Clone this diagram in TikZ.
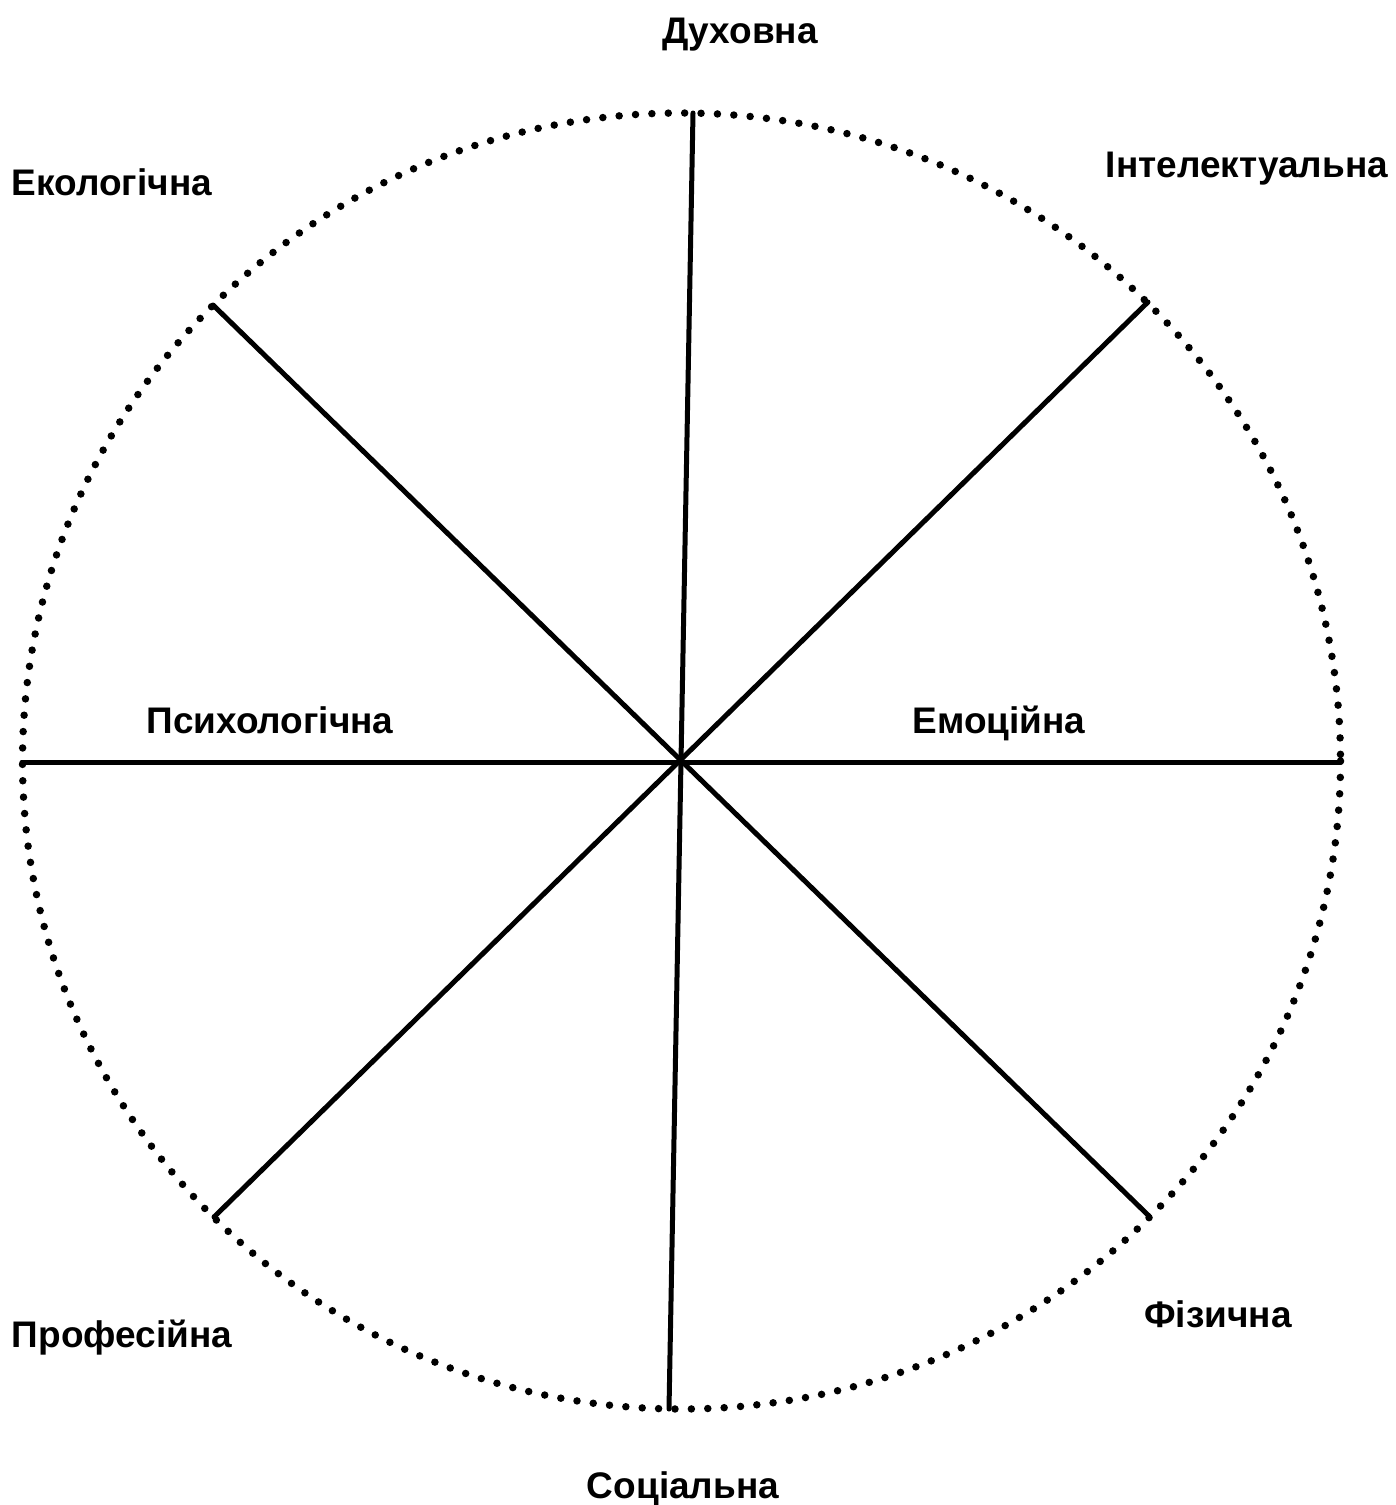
\documentclass[tikz,border=0pt]{standalone}
\usepackage{fontspec}
\setmainfont{Liberation Sans}
\begin{document}
\begin{tikzpicture}[x=1pt,y=-1pt,
  spoke/.style={line width=5pt,line cap=round},
  rim/.style={line width=7.5pt,line cap=round,dash pattern=on 0pt off 16.4pt},
  lbl/.style={anchor=base,inner sep=0pt,font=\fontsize{37}{40}\selectfont\bfseries}]
\useasboundingbox (0,0) rectangle (1396,1505);
\coordinate (c) at (681.5,761);
\draw[rim] (c) ellipse [x radius=659, y radius=648];
\coordinate (top) at (693,113);
\coordinate (bot) at (669,1409);
\coordinate (lft) at (22,762);
\coordinate (rgt) at (1341,762);
\coordinate (ul) at (213,305);
\coordinate (lr) at (1149,1216);
\coordinate (ur) at (1148,302);
\coordinate (ll) at (214,1217);
\draw[spoke] (top) -- (bot);
\draw[spoke] (lft) -- (rgt);
\draw[spoke] (ul) -- (lr);
\draw[spoke] (ur) -- (ll);
\node[lbl] (d) at (740,43) {Духовна};
\node[lbl] (i) at (1247,177) {Інтелектуальна};
\node[lbl] (e) at (112,195) {Екологічна};
\node[lbl] (p) at (270,733) {Психологічна};
\node[lbl] (em) at (999,733) {Емоційна};
\node[lbl] (pr) at (122,1347) {Професійна};
\node[lbl] (f) at (1218,1327) {Фізична};
\node[lbl] (s) at (683,1498) {Соціальна};
\end{tikzpicture}
\end{document}
